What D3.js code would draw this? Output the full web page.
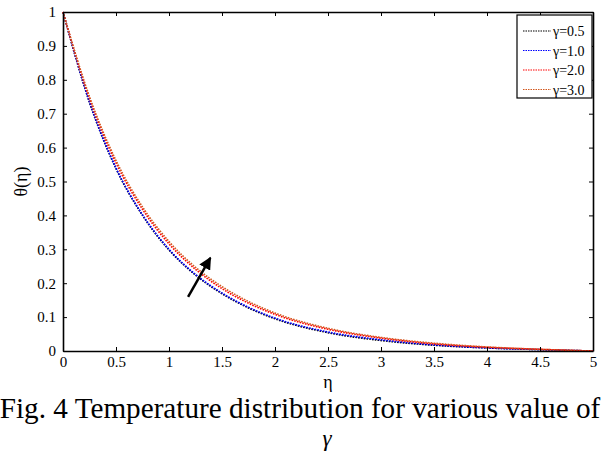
<html>
<head>
  <meta charset="utf-8">
  <script src="https://d3js.org/d3.v7.min.js"></script>
  <script>
    // eta grid and theta values
    var eta      = [0, 0.25, 0.5, 0.75, 1, 1.25, 1.5, 1.75, 2, 2.5, 3, 3.5, 4, 4.5, 5];
    var theta05  = [1, 0.733, 0.538, 0.400, 0.298, 0.224, 0.169, 0.127, 0.095, 0.054, 0.031, 0.017, 0.009, 0.004, 0];
    var theta10  = [1, 0.735, 0.540, 0.402, 0.300, 0.226, 0.171, 0.129, 0.097, 0.056, 0.033, 0.018, 0.009, 0.004, 0];
    var theta20  = [1, 0.745, 0.555, 0.418, 0.316, 0.241, 0.184, 0.141, 0.108, 0.064, 0.038, 0.021, 0.011, 0.005, 0];
    var theta30  = [1, 0.750, 0.562, 0.425, 0.323, 0.247, 0.190, 0.146, 0.112, 0.067, 0.040, 0.023, 0.012, 0.005, 0];
    var seriesNames  = ["\u03b3=0.5", "\u03b3=1.0", "\u03b3=2.0", "\u03b3=3.0"];
    var seriesColors = ["#000000", "#0000ff", "#ff0000", "#d2581e"];
    var xTicks = [0, 0.5, 1, 1.5, 2, 2.5, 3, 3.5, 4, 4.5, 5];
    var yTicks = [0, 0.1, 0.2, 0.3, 0.4, 0.5, 0.6, 0.7, 0.8, 0.9, 1];

    function makeChart() {
        var svg = d3.select("#chart");
        var L = 63, R = 593, T = 12, B = 351;
        var x = d3.scaleLinear().domain([0, 5]).range([L, R]);
        var y = d3.scaleLinear().domain([0, 1]).range([B, T]);
        var font = "'Liberation Serif', 'Times New Roman', serif";

        var all = [theta05, theta10, theta20, theta30];
        var line = d3.line().x((d, i) => x(eta[i])).y(d => y(d)).curve(d3.curveMonotoneX);

        // curves
        svg.selectAll("path.curve").data(all).enter()
            .append("path").attr("class", "curve")
            .attr("d", d => line(d))
            .attr("fill", "none")
            .attr("stroke", (d, i) => seriesColors[i])
            .attr("stroke-width", 1.6)
            .attr("stroke-dasharray", "1.6,1.2");

        // axes: inward ticks on all four sides
        var fmt = d => d3.format("")(d);
        var gx = svg.append("g").attr("transform", "translate(0," + B + ")")
            .call(d3.axisBottom(x).tickValues(xTicks).tickSizeInner(-4).tickSizeOuter(0).tickPadding(8).tickFormat(fmt));
        var gxt = svg.append("g").attr("transform", "translate(0," + T + ")")
            .call(d3.axisTop(x).tickValues(xTicks).tickSizeInner(-4).tickSizeOuter(0).tickFormat(""));
        var gy = svg.append("g").attr("transform", "translate(" + L + ",0)")
            .call(d3.axisLeft(y).tickValues(yTicks).tickSizeInner(-4).tickSizeOuter(0).tickPadding(7).tickFormat(fmt));
        var gyr = svg.append("g").attr("transform", "translate(" + R + ",0)")
            .call(d3.axisRight(y).tickValues(yTicks).tickSizeInner(-4).tickSizeOuter(0).tickFormat(""));
        [gx, gxt, gy, gyr].forEach(g => {
            g.attr("font-size", 15);
            g.select(".domain").attr("stroke", "#000").attr("stroke-width", 1.6);
            g.selectAll(".tick line").attr("stroke", "#000").attr("stroke-width", 1);
            g.selectAll("text").attr("fill", "#000").style("font-family", font);
        });
        gx.selectAll("text").attr("dy", "0.5em");

        // axis labels
        svg.append("text").attr("x", x(2.5)).attr("y", 388)
            .attr("text-anchor", "middle").style("font-family", font).attr("font-size", 18)
            .text("\u03b7");
        svg.append("text").attr("transform", "translate(27," + y(0.5) + ") rotate(-90)")
            .attr("text-anchor", "middle").style("font-family", font).attr("font-size", 18)
            .text("\u03b8(\u03b7)");

        // arrow
        svg.append("defs").append("marker").attr("id", "head")
            .attr("viewBox", "0 0 10 10").attr("refX", 9).attr("refY", 5)
            .attr("markerWidth", 5).attr("markerHeight", 5).attr("orient", "auto")
            .append("path").attr("d", "M0,0 L10,5 L0,10 z").attr("fill", "#000");
        svg.append("line").attr("x1", x(1.18)).attr("y1", y(0.16))
            .attr("x2", x(1.39)).attr("y2", y(0.275))
            .attr("stroke", "#000").attr("stroke-width", 2.5).attr("marker-end", "url(#head)");

        // legend
        var lg = svg.append("g");
        lg.append("rect").attr("x", 517).attr("y", 15).attr("width", 75).attr("height", 83)
            .attr("fill", "#fff").attr("stroke", "#000").attr("stroke-width", 1.2);
        seriesNames.forEach((n, i) => {
            var yy = 31 + i * 19.5;
            lg.append("line").attr("x1", 523).attr("x2", 551).attr("y1", yy).attr("y2", yy)
                .attr("stroke", seriesColors[i]).attr("stroke-width", 1.2).attr("stroke-dasharray", "1.5,1");
            lg.append("text").attr("x", 553).attr("y", yy + 5).style("font-family", font)
                .attr("font-size", 14).text(n);
        });

        // caption
        svg.append("text").attr("x", 300).attr("y", 418).attr("text-anchor", "middle")
            .style("font-family", font).attr("font-size", 29.2)
            .text("Fig. 4 Temperature distribution for various value of");
        svg.append("text").attr("x", 327).attr("y", 446).attr("text-anchor", "middle")
            .style("font-family", font).attr("font-size", 23).attr("font-style", "italic")
            .text("\u03b3");
    }
  </script>
</head>
<body onload="makeChart()" style="margin:0">
  <svg id="chart" width="603" height="459" style="background:#fff"></svg>
</body>
</html>
